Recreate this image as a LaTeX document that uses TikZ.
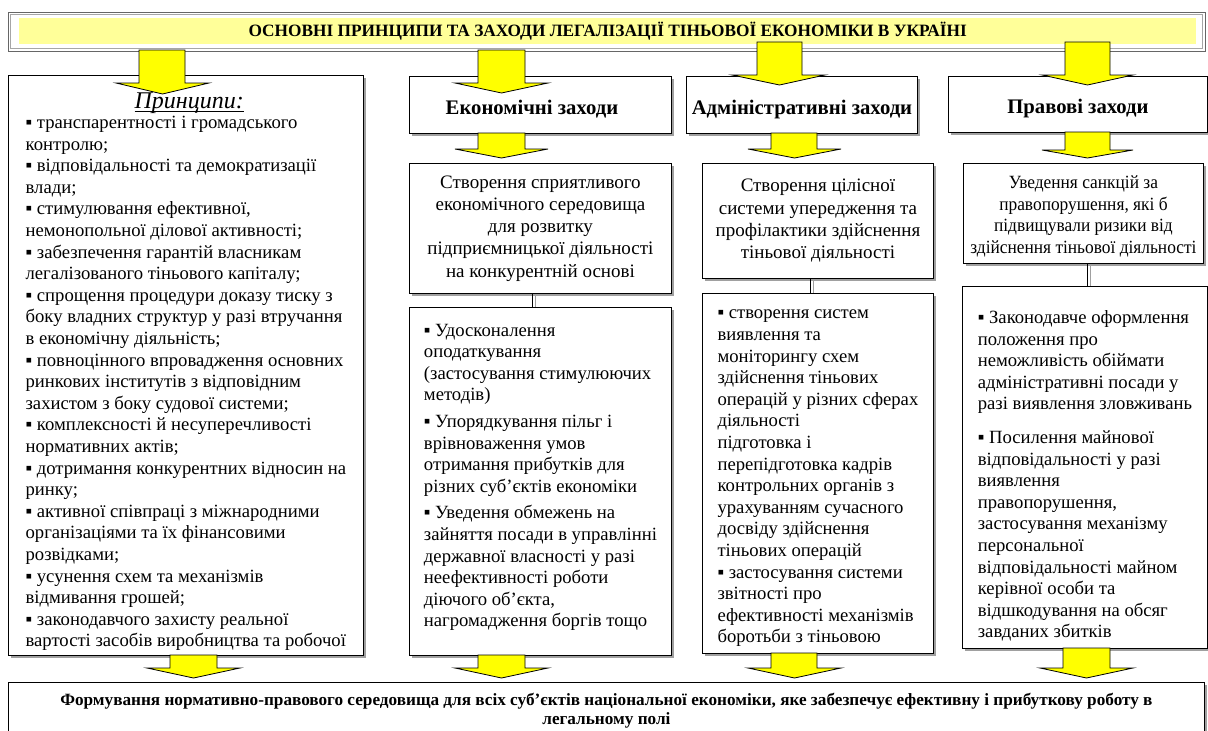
\documentclass[tikz,border=0pt]{standalone}
\usepackage{fontspec}
\setmainfont{Liberation Serif}
\newfontfamily\narrowserif{Liberation Serif}[FakeStretch=0.93]
\usetikzlibrary{shadows}
\definecolor{arrowyellow}{RGB}{255,255,0}
\definecolor{bandyellow}{RGB}{255,255,153}
\definecolor{shadowgray}{RGB}{160,160,160}
\newcommand\yarrow[8]{%
  \filldraw[yarr] (#1,#5) -- (#1,#6) -- (#3,#6) -- (#8,#7) -- (#4,#6) -- (#2,#6) -- (#2,#5) -- cycle;}
\newcommand\ulthick[1]{\setbox0\hbox{#1}\rlap{\rule[-3pt]{\wd0}{1.2pt}}\box0}
\begin{document}
\begin{tikzpicture}[x=1pt,y=-1pt,
  box/.style={draw=black, line width=0.9pt, fill=white, anchor=north west, inner sep=2pt,
    copy shadow={shadow xshift=3pt, shadow yshift=-3pt, draw=none, fill=shadowgray}},
  yarr/.style={fill=arrowyellow, draw=black, line width=0.8pt, line join=miter},
  conn/.style={draw=black, line width=0.8pt},
  connshadow/.style={draw=shadowgray, line width=1.2pt},
  listfont/.style={font=\fontsize{18.67}{21.6}\selectfont},
  headfont/.style={font=\bfseries\fontsize{20.7}{24}\selectfont, text height=19pt, text depth=0pt},
  centfont/.style={font=\fontsize{19}{22.3}\selectfont},
]
\useasboundingbox (0,0) rectangle (1208,731);

% title frame
\draw[draw=black!60, line width=0.9pt] (8,12) rectangle (1205,51);
\draw[draw=black!35, line width=0.7pt] (10.5,14.5) rectangle (1202.5,48.5);
\node[fill=bandyellow, anchor=north west, inner sep=0pt, minimum width=1177pt, minimum height=26pt,
  font=\bfseries\fontsize{17.3}{19}\selectfont] (title) at (19,18)
  {ОСНОВНІ ПРИНЦИПИ ТА ЗАХОДИ ЛЕГАЛІЗАЦІЇ ТІНЬОВОЇ ЕКОНОМІКИ В УКРАЇНІ};

% left column
\node[box, minimum width=355pt, minimum height=580pt, listfont, align=left] (left) at (8,75)
{\rule{0pt}{29pt}\hspace*{109pt}{\fontsize{24}{26}\selectfont\itshape\ulthick{Принципи:}}\\[-2pt]
▪ транспарентності і громадського\\
контролю;\\
▪ відповідальності та демократизації\\
влади;\\
▪ стимулювання ефективної,\\
немонопольної ділової активності;\\
▪ забезпечення гарантій власникам\\
легалізованого тіньового капіталу;\\
▪ спрощення процедури доказу тиску з\\
боку владних структур у разі втручання\\
в економічну діяльність;\\
▪ повноцінного впровадження основних\\
ринкових інститутів з відповідним\\
захистом з боку судової системи;\\
▪ комплексності й несуперечливості\\
нормативних актів;\\
▪ дотримання конкурентних відносин на\\
ринку;\\
▪ активної співпраці з міжнародними\\
організаціями та їх фінансовими\\
розвідками;\\
▪ усунення схем та механізмів\\
відмивання грошей;\\
▪ законодавчого захисту реальної\\
вартості засобів виробництва та робочої};

% column 2
\node[box, minimum width=262pt, minimum height=57pt, headfont] (c2h) at (409,76) {Економічні заходи\hspace*{17pt}};
\node[box, minimum width=262pt, minimum height=130pt, centfont, align=center] (c2a) at (409,163)
{Створення сприятливого\\ економічного середовища\\ для розвитку\\ підприємницької діяльності\\ на конкурентній основі};
\node[box, minimum width=262pt, minimum height=348pt, listfont, align=left] (c2b) at (409,307)
{▪ Удосконалення\\
оподаткування\\
(застосування стимулюючих\\
методів)\\[5pt]
▪ Упорядкування пільг і\\
врівноваження умов\\
отримання прибутків для\\
різних суб’єктів економіки\\[5pt]
▪ Уведення обмежень на\\
зайняття посади в управлінні\\
державної власності у разі\\
неефективності роботи\\
діючого об’єкта,\\
нагромадження боргів тощо\rule[-12pt]{0pt}{1pt}};

% column 3
\node[box, minimum width=231pt, minimum height=57pt, headfont] (c3h) at (686,76) {Адміністративні заходи};
\node[box, minimum width=231pt, minimum height=115pt, centfont, align=center] (c3a) at (702,163)
{Створення цілісної\\ системи упередження та\\ профілактики здійснення\\ тіньової діяльності};
\node[box, minimum width=231pt, minimum height=360pt, listfont, align=left] (c3b) at (702,293)
{\rule{0pt}{19pt}▪ створення систем\\
виявлення та\\
моніторингу схем\\
здійснення тіньових\\
операцій у різних сферах\\
діяльності\\
підготовка і\\
перепідготовка кадрів\\
контрольних органів з\\
урахуванням сучасного\\
досвіду здійснення\\
тіньових операцій\\
▪ застосування системи\\
звітності про\\
ефективності механізмів\\
боротьби з тіньовою};

% column 4
\node[box, minimum width=259pt, minimum height=56pt, headfont] (c4h) at (948,76) {Правові заходи};
\node[box, minimum width=240pt, minimum height=100pt, align=center,
  font=\narrowserif\fontsize{18.67}{21.5}\selectfont] (c4a) at (963,163)
{\rule{0pt}{19pt}Уведення санкцій за\\ правопорушення, які б\\ підвищували ризики від\\ здійснення тіньової діяльності};
\node[box, minimum width=245pt, minimum height=362pt, listfont, align=left] (c4b) at (962,286)
{\rule{0pt}{30pt}▪ Законодавче оформлення\\
положення про\\
неможливість обіймати\\
адміністративні посади у\\
разі виявлення зловживань\\[12pt]
▪ Посилення майнової\\
відповідальності у разі\\
виявлення\\
правопорушення,\\
застосування механізму\\
персональної\\
відповідальності майном\\
керівної особи та\\
відшкодування на обсяг\\
завданих збитків};

% bottom
\node[box, minimum width=1196pt, minimum height=56pt, align=center,
  font=\bfseries\fontsize{17.2}{18.5}\selectfont] (bottom) at (8,682)
{Формування нормативно-правового середовища для всіх суб’єктів національної економіки, яке забезпечує ефективну і прибуткову роботу в\\ легальному полі};

% thin connectors
\coordinate (l2) at (532,0);
\coordinate (l3) at (810,0);
\coordinate (l4) at (1087,0);
\coordinate (s2) at (535.5,0);
\coordinate (s3) at (813.5,0);
\coordinate (s4) at (1090.5,0);
\draw[connshadow] (c2a.south -| s2) -- (c2b.north -| s2);
\draw[conn] (c2a.south -| l2) -- (c2b.north -| l2);
\draw[connshadow] (c3a.south -| s3) -- (c3b.north -| s3);
\draw[conn] (c3a.south -| l3) -- (c3b.north -| l3);
\draw[connshadow] (c4a.south -| s4) -- (c4b.north -| s4);
\draw[conn] (c4a.south -| l4) -- (c4b.north -| l4);

% block arrows
\yarrow{139}{185}{116}{209}{50}{83}{94}{162.5}
\yarrow{478}{525}{455}{548}{50}{83}{93}{501.5}
\yarrow{757}{802}{732}{825}{42}{75}{85}{779.5}
\yarrow{1065}{1110}{1042}{1133}{42}{75}{85}{1087.5}
\yarrow{478}{525}{455}{548}{133}{149}{158}{501.5}
\yarrow{771}{817}{748}{841}{133}{149}{158}{794.5}
\yarrow{1065}{1110}{1042}{1133}{132}{150}{158}{1087.5}
\yarrow{170}{217}{147}{240}{655}{668}{678}{193.5}
\yarrow{478}{525}{455}{548}{655}{668}{678}{501.5}
\yarrow{771}{817}{748}{841}{653}{668}{678}{794.5}
\yarrow{1063}{1110}{1040}{1133}{648}{668}{678}{1086.5}
\end{tikzpicture}
\end{document}
